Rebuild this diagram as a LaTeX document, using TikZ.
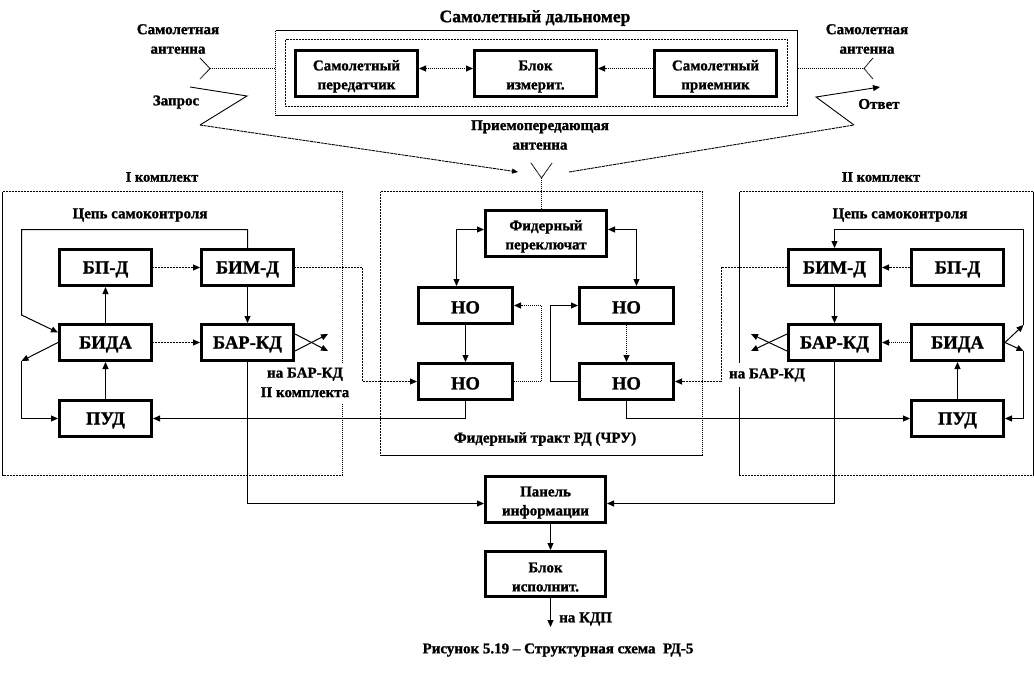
\documentclass[tikz,border=0pt]{standalone}
\usepackage{fontspec}
\setmainfont{Liberation Serif}[BoldFeatures={FakeBold=1.2}]
\usetikzlibrary{arrows.meta,calc}
\newcommand{\blk}[7][bigtxt]{%
  \node[blockbox,#1,align=center,minimum width={(#5-#3)*1pt-3pt},minimum height={(#6-#4)*1pt-3pt}] (#2) at ({(#3+#5)/2},{(#4+#6)/2}) {\rule{0pt}{16pt}#7};}
\tikzset{
  blockbox/.style={draw=black,line width=3pt,fill=white,inner sep=0pt,font=\bfseries},
  bigtxt/.style={font=\fontsize{18.5}{20}\selectfont\bfseries},
  smalltxt/.style={font=\fontsize{15}{19}\selectfont\bfseries},
  framebox/.style={inner sep=0pt,outer sep=0pt},
  lbl/.style={font=\fontsize{15}{19.5}\selectfont\bfseries,align=center,inner sep=0pt},
  tip/.style={-{Triangle[length=7pt,width=6pt]}},
  bitip/.style={{Triangle[length=7pt,width=6pt]}-{Triangle[length=7pt,width=6pt]}},
  sline/.style={line width=1pt,black},
  dline/.style={line width=1pt,black,dash pattern=on 1pt off 1pt},
  hline/.style={line width=1pt,black,dash pattern=on 1pt off 0.5pt},
  thinl/.style={line width=0.9pt,black},
}
\begin{document}
\begin{tikzpicture}[x=1pt,y=-1pt]
\useasboundingbox (0,0) rectangle (1034,683);
\fill[white] (0,0) rectangle (1034,683);
% frames
\node[framebox,minimum width=522pt,minimum height=85pt] (drange) at (536.5,73) {};
\node[framebox,minimum width=502pt,minimum height=67pt] (inner) at (536.5,73) {};
\node[framebox,minimum width=340pt,minimum height=284pt] (set1) at (172.5,333.5) {};
\node[framebox,minimum width=294pt,minimum height=284pt] (set2) at (886.5,333.5) {};
\node[framebox,minimum width=322pt,minimum height=264pt] (feed) at (541.5,323.5) {};
\draw[dline] (drange.north west) -- (drange.south west);
\draw[sline] (drange.north west) -- (drange.north east) -- (drange.south east) -- (drange.south west);
\draw[hline] (inner.north west) rectangle (inner.south east);
\draw[hline] (set1.north west) -- (set1.north east);
\draw[dline] (set1.north east) -- (set1.south east);
\draw[hline] (set1.south east) -- (set1.south west);
\draw[sline] (set1.south west) -- (set1.north west);
\draw[hline] (set2.north west) -- (set2.north east);
\draw[sline] (set2.north east) -- (set2.south east);
\draw[hline] (set2.south east) -- (set2.south west);
\draw[sline] (set2.south west) -- (set2.north west);
\draw[hline] (feed.north west) -- (feed.north east);
\draw[dline] (feed.north east) -- (feed.south east);
\draw[sline] (feed.south east) -- (feed.south west);
\draw[hline] (feed.south west) -- (feed.north west);
% blocks
\blk[smalltxt]{tx}{294}{49}{419}{98}{Самолетный\\передатчик}
\blk[smalltxt]{meas}{473}{49}{598}{98}{Блок\\измерит.}
\blk[smalltxt]{rx}{653}{49}{778}{98}{Самолетный\\приемник}
\blk{bpL}{58}{248}{153}{287}{БП-Д}
\blk{bimL}{200}{248}{295}{287}{БИМ-Д}
\blk{bidaL}{58}{323}{153}{362}{БИДА}
\blk{barL}{200}{323}{295}{362}{БАР-КД}
\blk{pudL}{58}{399}{153}{438}{ПУД}
\blk{bimR}{787}{248}{882}{287}{БИМ-Д}
\blk{bpR}{910}{248}{1005}{287}{БП-Д}
\blk{barR}{787}{323}{882}{362}{БАР-КД}
\blk{bidaR}{910}{323}{1005}{362}{БИДА}
\blk{pudR}{910}{399}{1005}{438}{ПУД}
\blk[smalltxt]{sw}{484}{209}{608}{258}{Фидерный\\переключат}
\blk{notl}{417}{286}{514}{325}{НО}
\blk{nobl}{417}{362}{514}{401}{НО}
\blk{notr}{578}{286}{675}{325}{НО}
\blk{nobr}{578}{362}{675}{401}{НО}
\blk[smalltxt]{panel}{484}{475}{607}{524}{Панель\\информации}
\blk[smalltxt]{exec}{484}{550}{607}{598}{Блок\\исполнит.}
% free coordinates
\coordinate (antL) at (210,68.5);
\coordinate (antLa) at (200,58);
\coordinate (antLb) at (200,79);
\coordinate (antR) at (864,68.5);
\coordinate (antRa) at (873,58);
\coordinate (antRb) at (873,79);
\coordinate (antC) at (541.5,178);
\coordinate (antCa) at (531,163);
\coordinate (antCb) at (552,163);
\coordinate (kdp) at (550.5,627);
% antennas
\draw[thinl,dash pattern=on 1pt off 0.5pt] (antLa) -- (antL) -- (antLb);
\draw[thinl,dash pattern=on 1pt off 0.5pt] (antRa) -- (antR) -- (antRb);
\draw[thinl,dash pattern=on 1pt off 0.5pt] (antCa) -- (antC) -- (antCb);
\draw[dline] (antL) -- (drange.west |- antL);
\draw[dline] (drange.east |- antR) -- (antR);
\draw[dline] (antC) -- ([xshift=-4.5pt]sw.north);
% zigzags
\coordinate (zl1) at (190,87); \coordinate (zl2) at (247,96); \coordinate (zl3) at (200,125); \coordinate (zl4) at (518,172);
\draw[thinl] (zl1) -- (zl2) -- (zl3);
\draw[thinl,dash pattern=on 3pt off 0.7pt,-{Triangle[length=6pt,width=5pt]}] (zl3) -- (zl4);
\coordinate (zr1) at (880,87); \coordinate (zr2) at (816,97); \coordinate (zr3) at (854,125); \coordinate (zr4) at (569,172);
\draw[thinl,dash pattern=on 3pt off 0.7pt] (zr4) -- (zr3);
\draw[thinl,-{Triangle[length=7pt,width=6pt]}] (zr3) -- (zr2) -- (zr1);
% top row
\draw[dline,bitip] ([yshift=5pt]tx.east) -- ([yshift=5pt]meas.west);
\draw[dline,tip] ([yshift=5pt]rx.west) -- ([yshift=5pt]meas.east);
% set I
\draw[hline,tip] (bpL) -- (bimL);
\draw[hline,tip] (bidaL) -- (barL);
\draw[sline,tip] (bimL) -- (barL);
\draw[sline,tip] (bidaL) -- (bpL);
\draw[sline,tip] (pudL) -- (bidaL);
\draw[sline,tip] (bimL.north) -- (247.5,229.5) -- (21.5,229.5) -- (21.5,315) -- ([yshift=10pt]bidaL.west);
\draw[sline,tip] (bidaL.west) -- (21.5,361);
\draw[sline,tip] (21.5,361) -- (21.5,418.5) -- (pudL.west);
\draw[sline,tip] ([yshift=8.5pt]barL.east) -- +(33,17);
\draw[sline,tip] ([yshift=-8.5pt]barL.east) -- +(33,-17);
\draw[hline,tip] (bimL.east) -- (362.5,267.5) -- (362.5,381.5) -- (nobl.west);
\draw[sline,tip] (nobl.south) -- (465.5,418.5) -- (pudL.east);
% set II
\draw[hline,tip] (bpR) -- (bimR);
\draw[dline,tip] (bidaR) -- (barR);
\draw[sline,tip] (bimR) -- (barR);
\draw[sline,tip] (pudR) -- (bidaR);
\draw[sline,tip] (bidaR.east) -- (1023.5,325);
\draw[sline,tip] (1023.5,325) -- (1023.5,229.5) -- (834.5,229.5) -- (bimR.north);
\draw[sline,tip] (bidaR.east) -- (1023.5,351);
\draw[sline,tip] (1023.5,351) -- (1023.5,418.5) -- (pudR.east);
\draw[sline,tip] ([yshift=8.5pt]barR.west) -- +(-36,17);
\draw[sline,tip] ([yshift=-8.5pt]barR.west) -- +(-36,-17);
\draw[hline,tip] (bimR.west) -- (721.5,267.5) -- (721.5,381.5) -- (nobr.east);
\draw[sline,tip] (nobr.south) -- (626.5,418.5) -- (pudR.west);
% feeder
\draw[sline,bitip] ([yshift=4pt]sw.west) -- (456.5,229.5) -- ([xshift=-9pt]notl.north);
\draw[sline,bitip] ([yshift=4pt]sw.east) -- (636.5,229.5) -- ([xshift=10pt]notr.north);
\draw[sline,tip] (notl) -- (nobl);
\draw[dline,tip] (notr) -- (nobr);
\draw[dline,tip] (nobl.east) -- (541.5,381.5) -- (541.5,305.5) -- (notl.east);
\draw[sline,tip] (nobr.west) -- (550.5,381.5) -- (550.5,305.5) -- (notr.west);
% bottom
\draw[sline,tip] (barL.south) -- (247.5,503.5) -- ([yshift=-4pt]panel.west);
\draw[sline,tip] (barR.south) -- (834.5,503.5) -- ([yshift=-4pt]panel.east);
\draw[sline,tip] ([xshift=5pt]panel.south) -- ([xshift=5pt]exec.north);
\draw[sline,tip] ([xshift=5pt]exec.south) -- (kdp);
% labels
\node[lbl] (t0) at (535,18) {\fontsize{17.5}{20}\selectfont Самолетный дальномер};
\node[lbl] (t1) at (178,39) {Самолетная\\антенна};
\node[lbl] (t2) at (867,39) {Самолетная\\антенна};
\node[lbl] (t3) at (176,102) {Запрос};
\node[lbl] (t4) at (879,104) {Ответ};
\node[lbl] (t5) at (540,135) {Приемопередающая\\антенна};
\node[lbl] (t6) at (162,177) {\fontsize{14.5}{18}\selectfont I комплект};
\node[lbl] (t7) at (881,177) {\fontsize{14.5}{18}\selectfont II комплект};
\node[lbl] (t8) at (140,215) {Цепь самоконтроля};
\node[lbl] (t9) at (900,215) {Цепь самоконтроля};
\node[lbl] (t10) at (545,439) {Фидерный тракт РД (ЧРУ)};
\node[lbl,fill=white,minimum width=88pt,minimum height=40pt] (t11) at (305,382.5) {на БАР-КД\\II комплекта};
\node[lbl,fill=white,minimum width=96pt,minimum height=24pt] (t12) at (771,375) {\hspace*{-8pt}на БАР-КД};
\node[lbl,anchor=west] (t13) at (559,619) {на КДП};
\node[lbl] (t14) at (558,650) {Рисунок 5.19 – Структурная схема~~РД-5};
\end{tikzpicture}
\end{document}
